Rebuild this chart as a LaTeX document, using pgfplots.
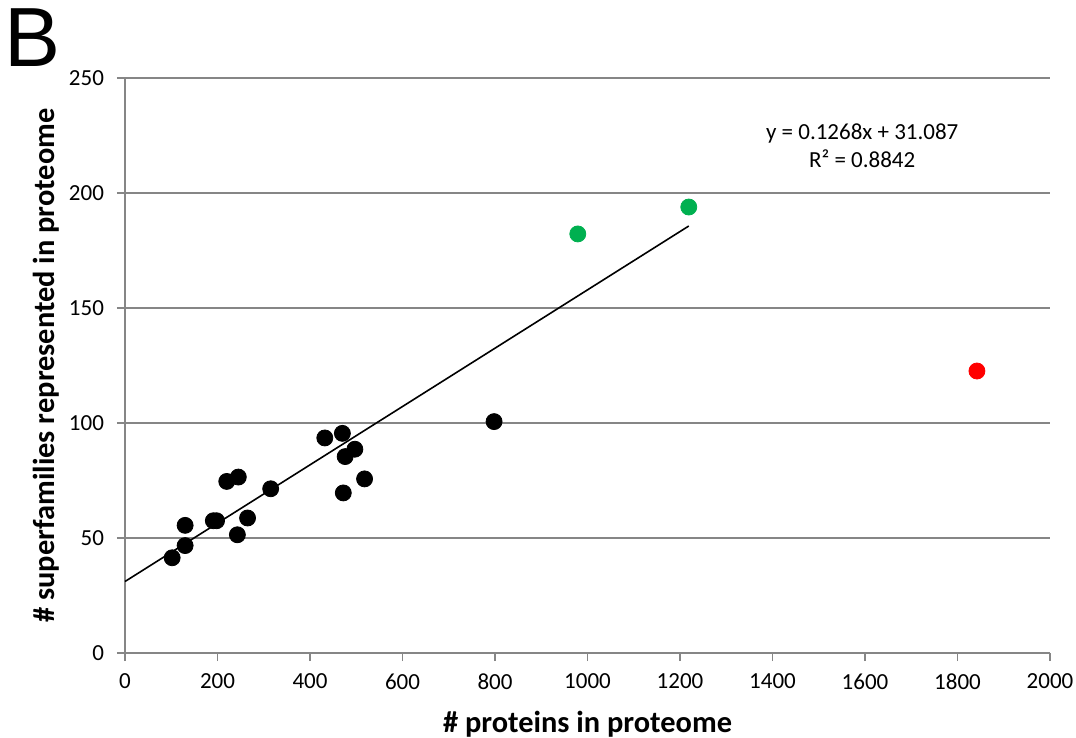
\documentclass[border=0pt]{standalone}
\usepackage{pgfplots}
\pgfplotsset{compat=1.18}
\usepackage{fontspec}
\setmainfont{Carlito}
\newfontfamily\arialfont{Liberation Sans}
\definecolor{gridgray}{RGB}{134,134,134}
\definecolor{xlgreen}{RGB}{0,176,80}
\begin{document}
\begin{tikzpicture}
\begin{axis}[
  scale only axis,
  width=462.5pt, height=287.5pt,
  xmin=0, xmax=2000, ymin=0, ymax=250,
  xtick={0,200,...,2000}, ytick={0,50,...,250},
  axis x line*=bottom, axis y line*=left,
  axis line style={gridgray, line width=0.8pt, -},
  ymajorgrids, major grid style={gridgray, line width=0.8pt},
  tick style={gridgray, line width=0.8pt},
  tick align=outside, major tick length=4pt,
  /pgf/number format/assume math mode=true,
  /pgf/number format/1000 sep={},
  ticklabel style={font=\fontsize{11.5}{13}\selectfont, text=black},
  xticklabel style={yshift=-3pt},
  yticklabel style={xshift=-3pt},
  xlabel={\# proteins in proteome},
  ylabel={\# superfamilies represented in proteome},
  label style={font=\fontsize{15.2}{18}\selectfont\bfseries},
  xlabel style={at={(rel axis cs:0.5,0)}, anchor=center, yshift=-35.5pt},
  ylabel style={at={(rel axis cs:0,0.5)}, anchor=center, rotate=0, yshift=39.5pt},
  clip=false,
]
\addplot[black, line width=0.8pt] coordinates {(0,31.087) (1219,185.65)};
\addplot[only marks, mark=*, mark size=4pt, black] coordinates {
(102,41.4) (130,46.7) (130,55.5) (191,57.5) (198,57.5) (243,51.4) (265,58.7)
(220,74.6) (245,76.5) (315,71.4) (432,93.5) (470,95.5) (497,88.6) (476,85.4)
(518,75.7) (472,69.6) (798,100.6)};
\addplot[only marks, mark=*, mark size=4pt, xlgreen, mark options={draw=xlgreen, fill=xlgreen}] coordinates {(979,182.2) (1219,193.9)};
\addplot[only marks, mark=*, mark size=4pt, red, mark options={draw=red, fill=red}] coordinates {(1842,122.6)};
\node[align=center, font=\fontsize{11.5}{14}\selectfont] at (axis cs:1594,220.4) {y = 0.1268x + 31.087\\R² = 0.8842};
\end{axis}
\node[font=\arialfont\fontsize{42}{42}\selectfont, anchor=north west, inner sep=0pt] at ([xshift=-60.5pt,yshift=35pt]current axis.north west) {B};
\pgfresetboundingbox
\useasboundingbox ([xshift=-62.5pt,yshift=-42.5pt]current axis.south west) rectangle ([xshift=475.5pt,yshift=326.5pt]current axis.south west);
\end{tikzpicture}
\end{document}
